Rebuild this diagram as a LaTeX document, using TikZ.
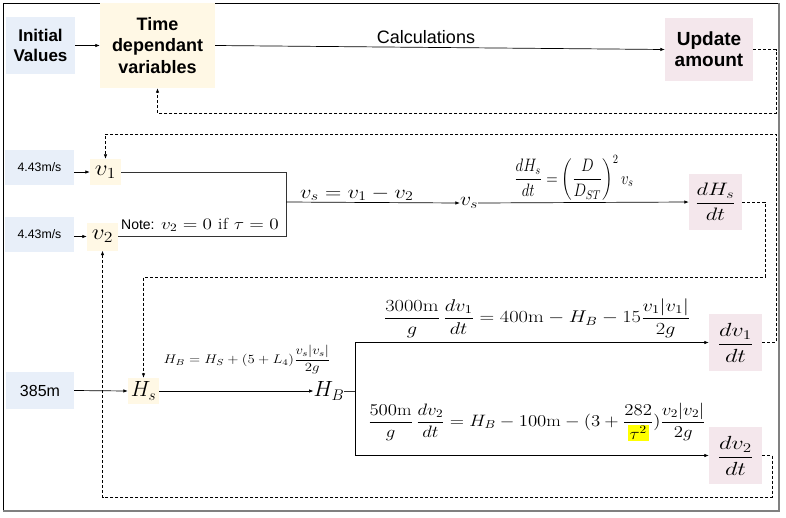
\RequirePackage{fix-cm}
\documentclass[tikz,border=0pt]{standalone}
\usepackage{amsmath}
\usepackage{graphicx}
\usepackage{fontspec}
\newfontfamily\arial{Liberation Sans}
\usetikzlibrary{arrows.meta}
\definecolor{bluebox}{HTML}{E8EFF9}
\definecolor{yelbox}{HTML}{FFF8E5}
\definecolor{pinkbox}{HTML}{F4E7EC}
\definecolor{hl}{HTML}{FFFF00}
\tikzset{
  box/.style={inner sep=0pt, align=center},
  bluenode/.style={box, fill=bluebox},
  yelnode/.style={box, fill=yelbox},
  pinknode/.style={box, fill=pinkbox},
  plain/.style={inner sep=0pt},
  arr/.style={-{Latex[length=4.5pt,width=3.5pt]}, line width=0.7pt},
  wire/.style={line width=0.7pt, black!80},
  dline/.style={dash pattern=on 3pt off 2pt, line width=0.7pt},
  darr/.style={dline, -{Latex[length=4.5pt,width=3.5pt]}},
}
\newcommand{\fs}[2]{\fontsize{#1}{#2}\selectfont}
\newcommand{\xs}[2]{\scalebox{#1}[1]{#2}}
\begin{document}
\begin{tikzpicture}[x=1pt,y=-1pt]
\useasboundingbox (0,0) rectangle (786,517);
\draw[line width=0.8pt] (3,3) rectangle (779,511);
\draw[gray, line width=1.5pt] (3,511) -- (779,511) -- (779,3);

% top row
\node[bluenode, minimum width=69pt, minimum height=57pt, font=\arial\bfseries\fs{17}{20}] (iv) at (40.5,45.5) {Initial\\Values};
\node[yelnode, minimum width=115pt, minimum height=85pt, font=\arial\bfseries\fs{18}{21.5}] (tdv) at (157.5,45.5) {Time\\dependant\\variables};
\node[pinknode, minimum width=88pt, minimum height=63pt, font=\arial\bfseries\fs{19}{21}] (upd) at (709,49.5) {Update\\amount};
\node[plain, anchor=base, font=\arial\fs{18}{21}] (calc) at (426,43) {Calculations};

\draw[arr] (iv.east) -- (tdv.west);
\draw[arr] (tdv.east) -- (upd.west);
\coordinate (c1) at (776,113);
\draw[darr] (upd.east) -| (c1) -| (tdv.south);

% velocities
\node[bluenode, minimum width=69pt, minimum height=35pt, font=\arial\fs{12.3}{15}] (in1) at (39.5,167.5) {4.43m/s};
\node[bluenode, minimum width=69pt, minimum height=35pt, font=\arial\fs{12.3}{15}] (in2) at (39.5,234.5) {4.43m/s};
\node[yelnode, minimum width=31pt, minimum height=26pt, font=\fs{22}{26}] (v1) at (105.5,172) {\xs{1.15}{$v_1$}};
\node[yelnode, minimum width=31pt, minimum height=28pt, font=\fs{22}{26}] (v2) at (102.5,236.5) {\xs{1.15}{$v_2$}};
\node[plain, font=\fs{16}{19}] (note) at (200,225) {{\arial\fs{14}{17}Note:} \xs{1.2}{$v_2 = 0\ \mathrm{if}\ \tau = 0$}};

\draw[arr] (in1.east |- v1.west) -- (v1.west);
\draw[arr] (in2.east |- v2.west) -- (v2.west);
\coordinate (j1) at (286,202);
\draw[wire] (v1.east) -| (j1);
\draw[wire] (v2.east) -| (j1);

\node[plain, font=\fs{19}{23}] (vs) at (469,203) {\xs{1.15}{$v_s$}};
\node[plain, anchor=base west, font=\fs{19}{23}] (vslab) at (300,198) {\xs{1.19}{$v_s = v_1 - v_2$}};
\draw[arr] (j1) -- (vs.west);

\node[pinknode, minimum width=53pt, minimum height=56pt, font=\fs{18}{22}] (dhs) at (715.5,202) {\xs{1.25}{$\dfrac{dH_s}{dt}$}};
\node[plain, font=\fs{15}{18}] (dhslab) at (574,178) {\scalebox{1}[1.2]{$\dfrac{dH_s}{dt} = \left(\dfrac{D}{D_{ST}}\right)^2 v_s$}};
\draw[arr] (vs.east) -- (dhs.west);

\coordinate (c2) at (776,134);

% heads
\node[bluenode, minimum width=68pt, minimum height=37pt, font=\arial\fs{16}{19}] (in3) at (40,390.5) {385m};
\node[yelnode, minimum width=31pt, minimum height=26pt, font=\fs{22}{26}] (hs) at (143.5,391) {$H_s$};
\node[plain, font=\fs{22}{26}] (hb) at (329,391) {$H_B$};
\node[plain, font=\fs{12.5}{15}] (hblab) at (247,360) {\xs{1.18}{$H_B = H_S + (5+L_4)\dfrac{v_s|v_s|}{2g}$}};
\draw[arr] (in3.east) -- (hs.west);
\draw[arr] (hs.east) -- (hb.west);

\node[pinknode, minimum width=53pt, minimum height=57pt, font=\fs{19}{23}] (dv1) at (735.5,342.5) {\xs{1.28}{$\dfrac{dv_1}{dt}$}};
\node[pinknode, minimum width=53pt, minimum height=57pt, font=\fs{19}{23}] (dv2) at (735.5,455.5) {\xs{1.28}{$\dfrac{dv_2}{dt}$}};
\node[plain, font=\fs{17}{21}] (eq1) at (537,318) {\xs{1.2}{$\dfrac{3000\mathrm{m}}{g}\,\dfrac{dv_1}{dt} = 400\mathrm{m} - H_B - 15\dfrac{v_1|v_1|}{2g}$}};
\node[plain, font=\fs{16.5}{20}] (eq2) at (537,422) {\setlength{\fboxsep}{1.5pt}\xs{1.14}{$\dfrac{500\mathrm{m}}{g}\,\dfrac{dv_2}{dt} = H_B - 100\mathrm{m} - (3 + \dfrac{282}{\colorbox{hl}{$\tau^2$}})\dfrac{v_2|v_2|}{2g}$}};

\coordinate (j2) at (355,391);
\draw[wire] (hb.east) -- (j2);
\draw[arr] (j2) |- (dv1.west);
\draw[arr] (j2) |- (dv2.west);

% feedback loops
\coordinate (c3) at (765,277);
\coordinate (c4) at (772,497);
\draw[darr] (dv1.east) -| (c2) -| (v1.north);
\draw[darr] (dhs.east) -| (c3) -| (hs.north);
\draw[darr] (dv2.east) -| (c4) -| (v2.south);
\end{tikzpicture}
\end{document}
